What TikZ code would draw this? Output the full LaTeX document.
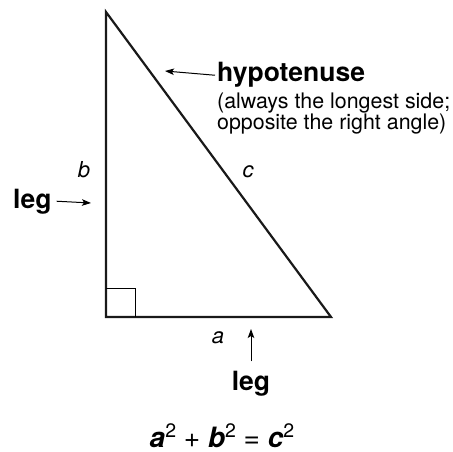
\documentclass[tikz,border=0pt]{standalone}
\usepackage{fontspec}
\setmainfont{TeX Gyre Heros}
\usetikzlibrary{positioning}
\usetikzlibrary{arrows.meta}
\newcommand{\sqtwo}{\raisebox{10pt}{\fontsize{19.5}{19.5}\mdseries\upshape 2}}
\tikzset{every picture/.style={x=1pt,y=-1pt},
  side/.style={line width=2.2pt,line join=miter,color=black!90},
  pointer/.style={line width=1pt,-{Stealth[length=9pt,width=6.5pt,inset=2pt]}},
  word/.style={font=\fontsize{26.5}{26.5}\selectfont\bfseries,inner sep=0pt},
  letter/.style={font=\fontsize{22}{22}\selectfont\itshape,inner sep=0pt}}

\begin{document}
\begin{tikzpicture}
\useasboundingbox (0,0) rectangle (453,452);
% the triangle
\coordinate (top) at (106,12);
\coordinate (rt) at (106,317);
\coordinate (right) at (331,317);
\draw[side] (top) -- (rt) -- (right) -- cycle;
\draw[line width=0.9pt] (106,288) -- (135,288) -- (135,317);
% side letters
\node[letter,anchor=base] (b) at (84,177) {b};
\node[letter,anchor=base] (c) at (248,177) {c};
\node[letter,anchor=base] (a) at (218,343) {a};
% hypotenuse
\node[word,anchor=base west] (hyp) at (217,82) {hypotenuse};
\node[anchor=north west,inner sep=0pt,align=left,font=\fontsize{21.4}{21.5}\selectfont] (note) at (217,92.5)
  {(always the longest side;\\opposite the right angle)};
\coordinate (hyptip) at (165,71);
\draw[pointer] (hyp.west) ++(-2,0) coordinate (hyptail) (hyptail) -- (hyptip);
% legs
\node[word,anchor=base west] (legl) at (13,208) {leg};
\coordinate (legltip) at (91,203);
\draw[pointer] (legl.east) ++(5,0) coordinate (legltail) (legltail) -- (legltip);
\node[word,anchor=base] (legb) at (251,390) {leg};
\coordinate (legbtip) at (251,329);
\draw[pointer] (legb.north) ++(0,-9) coordinate (legbtail) (legbtail) -- (legbtip);
% formula
\node[font=\fontsize{28}{28}\selectfont,anchor=base,inner sep=0pt] (law) at (222,447)
  {\textbf{\textit{a}}\sqtwo\ +\ \textbf{\textit{b}}\sqtwo\ =\ \textbf{\textit{c}}\sqtwo};
\end{tikzpicture}
\end{document}
